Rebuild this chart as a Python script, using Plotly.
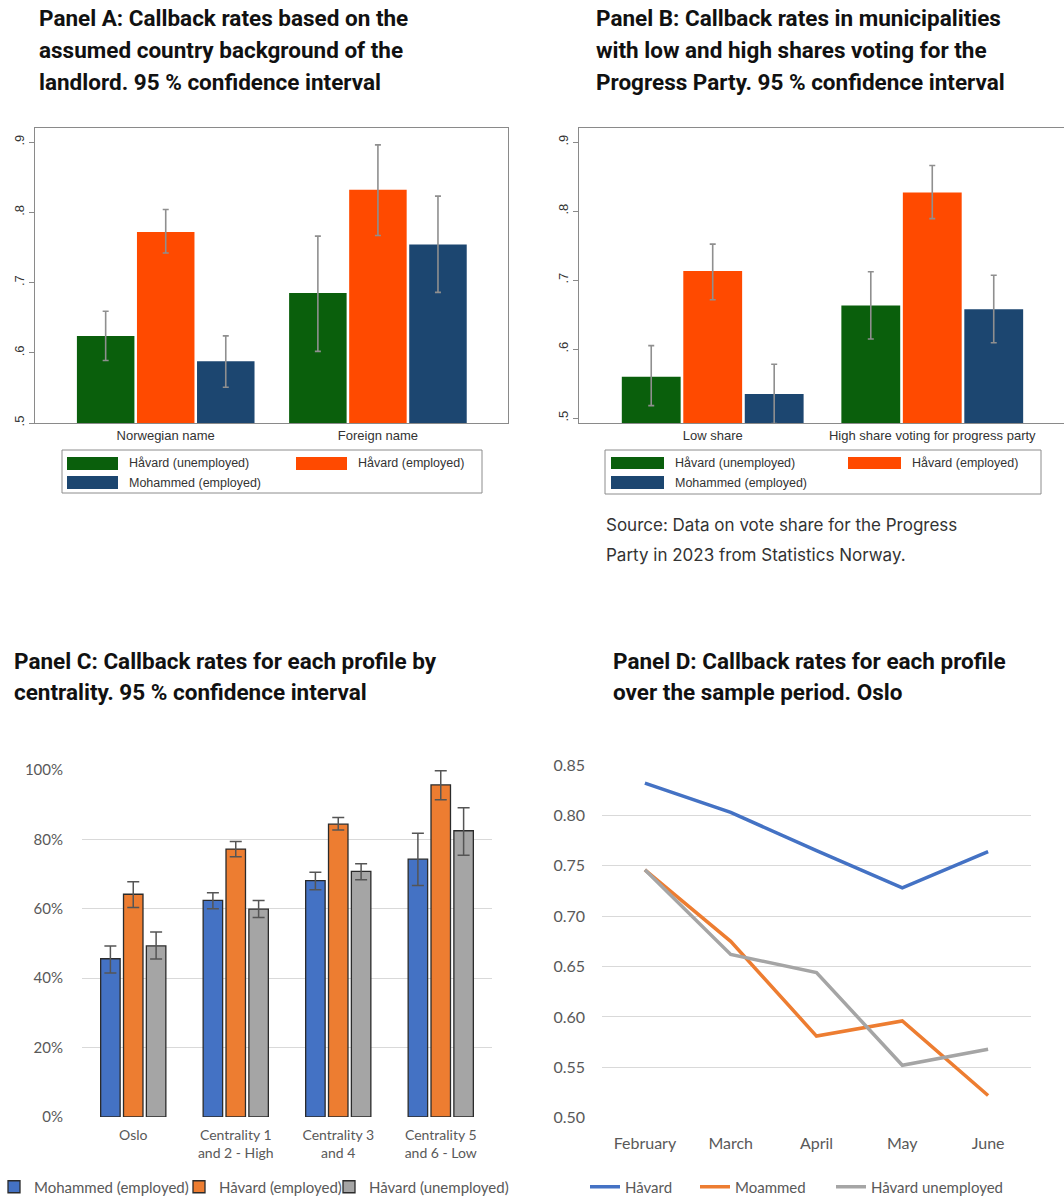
import plotly.graph_objects as go

W, H = 1064, 1196

# ---------------- Panel A: landlord background ----------------
a_groups = ["Norwegian name", "Foreign name"]
a_labels = ["Håvard (unemployed)", "Håvard (employed)", "Mohammed (employed)"]
a_unemp = [0.624, 0.685]
a_unemp_lo = [0.589, 0.602]
a_unemp_hi = [0.659, 0.766]
a_emp = [0.772, 0.832]
a_emp_lo = [0.742, 0.767]
a_emp_hi = [0.804, 0.896]
a_moh = [0.588, 0.754]
a_moh_lo = [0.551, 0.686]
a_moh_hi = [0.624, 0.823]

# ---------------- Panel B: Progress Party vote share ----------------
b_groups = ["Low share", "High share voting for progress party"]
b_unemp = [0.560, 0.663]
b_unemp_lo = [0.518, 0.6145]
b_unemp_hi = [0.605, 0.712]
b_emp = [0.713, 0.827]
b_emp_lo = [0.6715, 0.789]
b_emp_hi = [0.752, 0.866]
b_moh = [0.535, 0.6575]
b_moh_lo = [0.492, 0.609]
b_moh_hi = [0.578, 0.707]

# ---------------- Panel C: centrality (percent) ----------------
c_groups = ["Oslo", "Centrality 1<br>and 2 - High", "Centrality 3<br>and 4",
            "Centrality 5<br>and 6 - Low"]
c_labels = ["Mohammed (employed)", "Håvard (employed)", "Håvard (unemployed)"]
c_moh = [45.6, 62.4, 68.1, 74.3]
c_moh_lo = [41.5, 60.0, 65.5, 66.7]
c_moh_hi = [49.3, 64.6, 70.5, 81.8]
c_emp = [64.2, 77.2, 84.4, 95.7]
c_emp_lo = [60.4, 75.0, 82.7, 91.4]
c_emp_hi = [67.8, 79.4, 86.3, 99.8]
c_unemp = [49.3, 59.9, 70.8, 82.5]
c_unemp_lo = [45.5, 57.5, 68.4, 75.4]
c_unemp_hi = [53.3, 62.4, 73.0, 89.1]
c_ticks = [0, 20, 40, 60, 80, 100]
c_ticktext = ["0%", "20%", "40%", "60%", "80%", "100%"]

# ---------------- Panel D: sample period, Oslo ----------------
months = ["February", "March", "April", "May", "June"]
d_labels = ["Håvard", "Moammed", "Håvard unemployed"]
d_havard = [0.832, 0.803, 0.765, 0.728, 0.764]
d_moammed = [0.746, 0.675, 0.581, 0.596, 0.522]
d_unemp = [0.746, 0.662, 0.644, 0.552, 0.568]
d_ticks = [0.50, 0.55, 0.60, 0.65, 0.70, 0.75, 0.80, 0.85]

stata_ticks = [0.5, 0.6, 0.7, 0.8, 0.9]
stata_ticktext = [".5", ".6", ".7", ".8", ".9"]

GREEN, ORANGERED, NAVY = "#0a5f0c", "#ff4a00", "#1c4670"
XL_BLUE, XL_ORANGE, XL_GRAY = "#4472c4", "#ed7d31", "#a5a5a5"


def px_x(x):
    return x / W


def px_y(y):
    return 1 - y / H


def err(vals, lo, hi):
    return dict(type="data", symmetric=False,
                array=[h - v for v, h in zip(vals, hi)],
                arrayminus=[v - l for v, l in zip(vals, lo)])


fig = go.Figure()

# Stata-style grouped bars (A and B)
stata_err = dict(color="#8f8f8f", thickness=1.6, width=3)
for axis_id, groups, series, width, offs in [
    ("", a_groups,
     [(a_unemp, a_unemp_lo, a_unemp_hi, GREEN),
      (a_emp, a_emp_lo, a_emp_hi, ORANGERED),
      (a_moh, a_moh_lo, a_moh_hi, NAVY)],
     0.271, [-0.4185, -0.1355, 0.1475]),
    ("2", b_groups,
     [(b_unemp, b_unemp_lo, b_unemp_hi, GREEN),
      (b_emp, b_emp_lo, b_emp_hi, ORANGERED),
      (b_moh, b_moh_lo, b_moh_hi, NAVY)],
     0.268, [-0.414, -0.134, 0.146]),
]:
    for (vals, lo, hi, col), off, name in zip(series, offs, a_labels):
        e = err(vals, lo, hi)
        e.update(stata_err)
        fig.add_trace(go.Bar(
            x=groups, y=vals, name=name, showlegend=False,
            marker=dict(color=col, line=dict(width=0)),
            width=width, offset=off, error_y=e,
            xaxis="x" + axis_id, yaxis="y" + axis_id,
        ))

# Excel-style grouped bars (C)
c_series = [(c_moh, c_moh_lo, c_moh_hi, XL_BLUE),
            (c_emp, c_emp_lo, c_emp_hi, XL_ORANGE),
            (c_unemp, c_unemp_lo, c_unemp_hi, XL_GRAY)]
c_offs = [-0.318, -0.095, 0.128]
c_legends = ["legend", "legend2", "legend3"]
for (vals, lo, hi, col), off, name, leg in zip(c_series, c_offs, c_labels, c_legends):
    e = err(vals, lo, hi)
    e.update(color="#555555", thickness=1.5, width=6)
    fig.add_trace(go.Bar(
        x=c_groups, y=vals, name=name, legend=leg,
        marker=dict(color=col, line=dict(color="#2b2b2b", width=1.3)),
        width=0.19, offset=off, error_y=e,
        xaxis="x3", yaxis="y3",
    ))

# Lines (D)
d_series = [(d_havard, XL_BLUE), (d_moammed, XL_ORANGE), (d_unemp, XL_GRAY)]
d_legends = ["legend4", "legend5", "legend6"]
for (vals, col), name, leg in zip(d_series, d_labels, d_legends):
    fig.add_trace(go.Scatter(
        x=months, y=vals, name=name, legend=leg, mode="lines",
        line=dict(color=col, width=3.5),
        xaxis="x4", yaxis="y4",
    ))

stata_font = dict(family="Liberation Sans, Arial", size=13, color="#333333")
excel_font = dict(family="Lato, Open Sans", size=15, color="#595959")

fig.update_layout(
    width=W, height=H,
    margin=dict(l=0, r=0, t=0, b=0, autoexpand=False),
    paper_bgcolor="white", plot_bgcolor="white",
    barmode="overlay",
    showlegend=True,
    # Panel A axes
    xaxis=dict(domain=[px_x(35), px_x(508)], anchor="y", type="category",
               range=[-0.616, 1.613], showline=True, mirror=True,
               linecolor="#8a8a8a", linewidth=1.2, ticks="", showgrid=False,
               tickfont=stata_font, ticklabelstandoff=0),
    yaxis=dict(domain=[px_y(423), px_y(128)], anchor="x", range=[0.5, 0.92],
               tickvals=stata_ticks, ticktext=stata_ticktext, tickangle=-90,
               ticks="outside", ticklen=5, tickcolor="#8a8a8a",
               showline=True, mirror=True, linecolor="#8a8a8a", linewidth=1.2,
               showgrid=False, zeroline=False, tickfont=stata_font),
    # Panel B axes
    xaxis2=dict(domain=[px_x(579), 1.0], anchor="y2", type="category",
                range=[-0.609, 1.600], showline=True, mirror=True,
                linecolor="#8a8a8a", linewidth=1.2, ticks="", showgrid=False,
                tickfont=stata_font, ticklabelstandoff=0),
    yaxis2=dict(domain=[px_y(423), px_y(128)], anchor="x2",
                range=[0.4928, 0.9203],
                tickvals=stata_ticks, ticktext=stata_ticktext, tickangle=-90,
                ticks="outside", ticklen=5, tickcolor="#8a8a8a",
                showline=True, mirror=False, linecolor="#8a8a8a", linewidth=1.2,
                showgrid=False, zeroline=False, tickfont=stata_font),
    # Panel C axes
    xaxis3=dict(domain=[px_x(82), px_x(492)], anchor="y3", type="category",
                range=[-0.5, 3.5], showline=False, ticks="", showgrid=False,
                tickfont=dict(family="Lato, Open Sans", size=14, color="#595959"),
                ticklabelstandoff=8),
    yaxis3=dict(domain=[px_y(1117), px_y(770)], anchor="x3", range=[0, 100],
                tickvals=c_ticks, ticktext=c_ticktext, showgrid=True,
                gridcolor="#d9d9d9", gridwidth=1, zeroline=False,
                showline=False, ticks="", tickfont=excel_font,
                ticklabelstandoff=18),
    # Panel D axes
    xaxis4=dict(domain=[px_x(602), px_x(1031)], anchor="y4", type="category",
                range=[-0.5, 4.5], showline=False, ticks="", showgrid=False,
                tickfont=dict(family="Lato, Open Sans", size=16, color="#595959"),
                ticklabelstandoff=14),
    yaxis4=dict(domain=[px_y(1117.7), px_y(765)], anchor="x4",
                range=[0.5, 0.85], tickvals=d_ticks, tickformat=".2f",
                showgrid=True, gridcolor="#d9d9d9", gridwidth=1,
                zeroline=False, showline=False, ticks="",
                tickfont=dict(family="Lato, Open Sans", size=16, color="#595959"),
                ticklabelstandoff=16),
)

# one legend per entry so each key sits where it belongs
legend_base = dict(orientation="h", xref="paper", yref="paper",
                   xanchor="left", yanchor="middle", bgcolor="rgba(0,0,0,0)",
                   borderwidth=0, itemwidth=30,
                   font=dict(family="Lato, Open Sans", size=15, color="#595959"))
for leg, xpx in zip(c_legends + d_legends, [-6, 179, 329, 585, 695, 831]):
    fig.update_layout({leg: dict(legend_base, x=px_x(xpx), y=px_y(1187))})

# Stata-style legend boxes for A and B
shapes = []
annotations = []
leg_font = dict(family="Liberation Sans, Arial", size=12.5, color="#333333")
for box, keys in [
    ((62, 450, 482, 493),
     [(67, 118, 457, 470, GREEN, 127, a_labels[0]),
      (296, 347, 457, 470, ORANGERED, 356, a_labels[1]),
      (67, 118, 476, 489, NAVY, 127, a_labels[2])]),
    ((605, 450, 1041, 494),
     [(611, 664, 457, 469, GREEN, 673, a_labels[0]),
      (848, 901, 457, 469, ORANGERED, 910, a_labels[1]),
      (611, 664, 476, 489, NAVY, 673, a_labels[2])]),
]:
    x0, y0, x1, y1 = box
    shapes.append(dict(type="rect", xref="paper", yref="paper",
                       x0=px_x(x0), x1=px_x(x1), y0=px_y(y1), y1=px_y(y0),
                       line=dict(color="#8c8c8c", width=1), fillcolor="white",
                       layer="below"))
    for kx0, kx1, ky0, ky1, col, tx, label in keys:
        shapes.append(dict(type="rect", xref="paper", yref="paper",
                           x0=px_x(kx0), x1=px_x(kx1), y0=px_y(ky1), y1=px_y(ky0),
                           line=dict(width=0), fillcolor=col))
        annotations.append(dict(text=label, xref="paper", yref="paper",
                                x=px_x(tx), y=px_y((ky0 + ky1) / 2),
                                xanchor="left", yanchor="middle",
                                showarrow=False, font=leg_font))

title_font = dict(family="Roboto, Lato", size=22.5, color="#111111")
titles = [
    (37, [18, 50, 82], ["<b>Panel A: Callback rates based on the</b>",
                        "<b>assumed country background of the</b>",
                        "<b>landlord. 95 % confidence interval</b>"]),
    (594, [18, 50, 82], ["<b>Panel B: Callback rates in municipalities</b>",
                         "<b>with low and high shares voting for the</b>",
                         "<b>Progress Party. 95 % confidence interval</b>"]),
    (12, [661, 692], ["<b>Panel C: Callback rates for each profile by</b>",
                      "<b>centrality. 95 % confidence interval</b>"]),
    (611, [661, 692], ["<b>Panel D: Callback rates for each profile</b>",
                       "<b>over the sample period. Oslo</b>"]),
]
for xpx, ys, lines in titles:
    for ypx, line in zip(ys, lines):
        annotations.append(dict(text=line, xref="paper", yref="paper",
                                x=px_x(xpx), y=px_y(ypx), xanchor="left",
                                yanchor="middle", showarrow=False,
                                font=title_font))

src_font = dict(family="Inter, Lato", size=17, color="#333333")
for ypx, line in zip([525, 555], ["Source: Data on vote share for the Progress",
                                  "Party in 2023 from Statistics Norway."]):
    annotations.append(dict(text=line, xref="paper", yref="paper",
                            x=px_x(604), y=px_y(ypx), xanchor="left",
                            yanchor="middle", showarrow=False, font=src_font))

fig.update_layout(shapes=shapes, annotations=annotations)

fig.write_html("out.html")
